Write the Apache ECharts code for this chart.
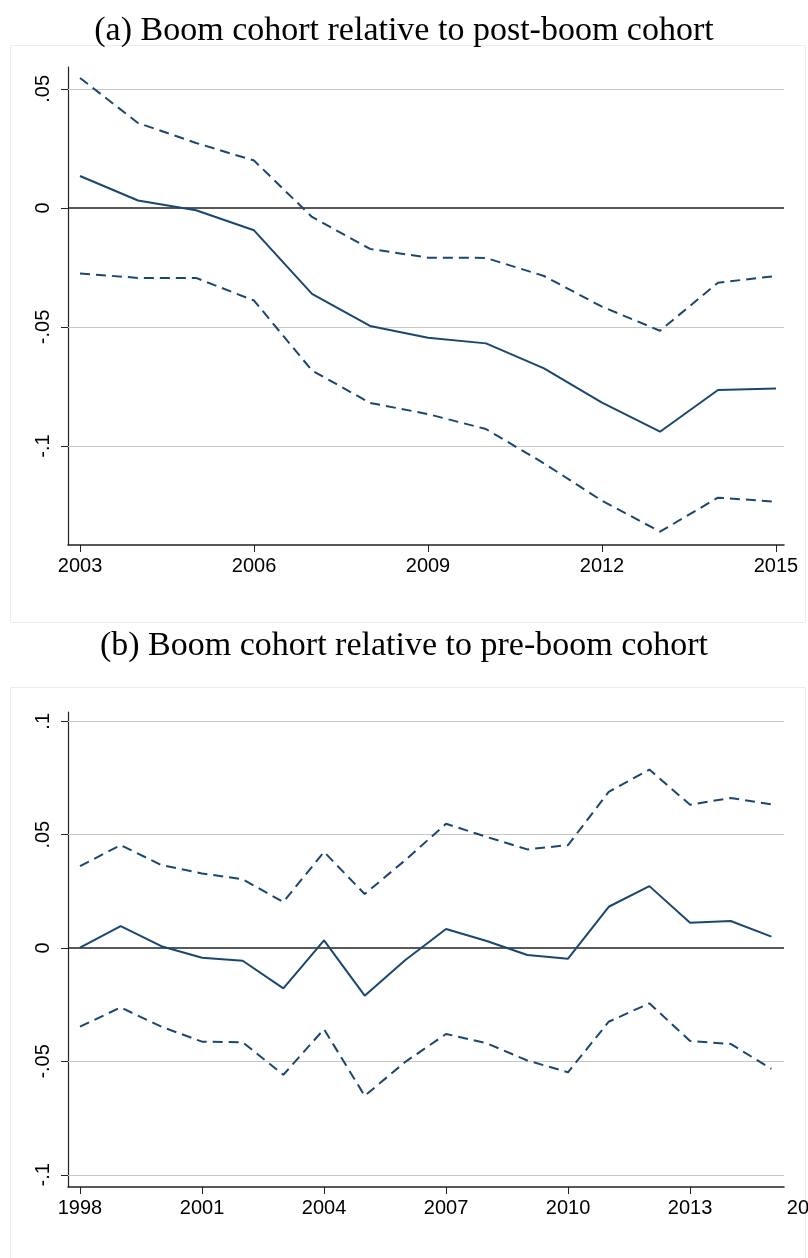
<!DOCTYPE html>
<html>
<head>
<meta charset="utf-8">
<script src="https://cdn.jsdelivr.net/npm/echarts@6/dist/echarts.min.js"></script>
<style>
  html, body { margin: 0; padding: 0; background: #fff; }
  #chart { width: 808px; height: 1258px; }
</style>
</head>
<body>
<div id="chart"></div>
<script>
// Panel (a): boom cohort vs post-boom cohort, 2003-2015
const yearsA = [2003, 2004, 2005, 2006, 2007, 2008, 2009, 2010, 2011, 2012, 2013, 2014, 2015];
const coefA  = [0.0134, 0.0031, -0.0010, -0.0094, -0.0361, -0.0496, -0.0545, -0.0569, -0.0674, -0.0818, -0.0940, -0.0765, -0.0759];
const upperA = [0.0546, 0.0357, 0.0273, 0.0199, -0.0038, -0.0172, -0.0209, -0.0210, -0.0286, -0.0415, -0.0516, -0.0314, -0.0286];
const lowerA = [-0.0275, -0.0294, -0.0294, -0.0389, -0.0683, -0.0819, -0.0866, -0.0929, -0.1073, -0.1230, -0.1360, -0.1217, -0.1234];
const xTicksA = [2003, 2006, 2009, 2012, 2015];
const yTicksA = [-0.1, -0.05, 0, 0.05];

// Panel (b): boom cohort vs pre-boom cohort, 1998-2015
const yearsB = [1998, 1999, 2000, 2001, 2002, 2003, 2004, 2005, 2006, 2007, 2008, 2009, 2010, 2011, 2012, 2013, 2014, 2015];
const coefB  = [0.0002, 0.0097, 0.0008, -0.0043, -0.0056, -0.0178, 0.0034, -0.0210, -0.0053, 0.0084, 0.0031, -0.0031, -0.0047, 0.0182, 0.0273, 0.0111, 0.0119, 0.0050];
const upperB = [0.0361, 0.0454, 0.0366, 0.0329, 0.0303, 0.0203, 0.0424, 0.0238, 0.0388, 0.0548, 0.0490, 0.0435, 0.0454, 0.0689, 0.0787, 0.0632, 0.0662, 0.0634];
const lowerB = [-0.0347, -0.0262, -0.0347, -0.0413, -0.0416, -0.0559, -0.0358, -0.0652, -0.0502, -0.0379, -0.0420, -0.0496, -0.0548, -0.0325, -0.0244, -0.0410, -0.0423, -0.0533];
const xTicksB = [1998, 2001, 2004, 2007, 2010, 2013];
const xTicksBOuter = [2016];
const yTicksB = [-0.1, -0.05, 0, 0.05, 0.1];

const titleA = '(a) Boom cohort relative to post-boom cohort';
const titleB = '(b) Boom cohort relative to pre-boom cohort';

const navy = '#1a476f';
const tickFont = { fontFamily: 'Liberation Sans, Arial, sans-serif', fontSize: 20, color: '#000' };
const titleFont = { fontFamily: 'Liberation Serif, Times New Roman, serif', fontSize: 34, fontWeight: 'normal', color: '#000' };

function fmtY(v) {
  if (Math.abs(v) < 1e-12) return '0';
  return String(+v.toFixed(4)).replace('0.', '.');
}

function pairs(xs, ys) { return xs.map((x, i) => [x, ys[i]]); }

function xAxisCfg(gridIndex, min, max, ticks) {
  return {
    type: 'value', gridIndex, min, max,
    axisLine: { show: true, onZero: false, lineStyle: { color: '#222', width: 1.5 } },
    axisTick: { show: true, length: 7, customValues: ticks, lineStyle: { color: '#222', width: 1 } },
    axisLabel: Object.assign({ customValues: ticks, margin: 11, alignMinLabel: 'center', alignMaxLabel: 'center', formatter: v => String(v) }, tickFont),
    splitLine: { show: false }
  };
}

function yAxisCfg(gridIndex, min, max, ticks) {
  return {
    type: 'value', gridIndex, min, max,
    axisLine: { show: true, onZero: false, lineStyle: { color: '#222', width: 1.2 } },
    axisTick: { show: true, length: 7, customValues: ticks, lineStyle: { color: '#222', width: 1 } },
    axisLabel: Object.assign({ customValues: ticks, rotate: 90, margin: 15, alignMinLabel: 'center', alignMaxLabel: 'center', formatter: fmtY }, tickFont),
    splitLine: { show: false }
  };
}

// horizontal reference lines: light gridlines at ticks, dark line at zero
function refLines(ticks) {
  const data = ticks.filter(t => t !== 0).map(t => ({ yAxis: t, lineStyle: { color: '#c8c8c8', width: 1, type: 'solid' } }));
  data.push({ yAxis: 0, lineStyle: { color: '#222', width: 1.5, type: 'solid' } });
  return { silent: true, symbol: 'none', label: { show: false }, animation: false, data };
}

function lineSeries(idx, data, dashed, withRefs, ticks) {
  const s = {
    type: 'line', xAxisIndex: idx, yAxisIndex: idx, data,
    symbol: 'none', animation: false, z: 3,
    lineStyle: { color: navy, width: 2, type: dashed ? [10, 6] : 'solid' }
  };
  if (withRefs) s.markLine = Object.assign({ z: 1 }, refLines(ticks));
  return s;
}

const chart = echarts.init(document.getElementById('chart'), null, { renderer: 'canvas' });

chart.setOption({
  backgroundColor: '#fff',
  animation: false,
  title: [
    { text: titleA, left: 'center', top: 9, textStyle: titleFont },
    { text: titleB, left: 'center', top: 624, textStyle: titleFont }
  ],
  graphic: [
    { type: 'rect', shape: { x: 10.5, y: 45.5, width: 795, height: 577 }, style: { fill: 'none', stroke: '#ececec', lineWidth: 1 }, z: 0 },
    { type: 'rect', shape: { x: 10.5, y: 687.5, width: 795, height: 600 }, style: { fill: 'none', stroke: '#ececec', lineWidth: 1 }, z: 0 }
  ],
  grid: [
    { left: 68, right: 24, top: 67, bottom: 713, outerBoundsMode: 'none' },
    { left: 68, right: 24, top: 712, bottom: 71, outerBoundsMode: 'none' },
    { left: 68, right: -1, top: 712, bottom: 71, outerBoundsMode: 'none' }
  ],
  xAxis: [
    xAxisCfg(0, 2002.793, 2015.138, xTicksA),
    xAxisCfg(1, 1997.705, 2015.31, xTicksB),
    Object.assign(xAxisCfg(2, 1997.705, 2016, xTicksBOuter), { axisLine: { show: false }, axisTick: { show: false } })
  ],
  yAxis: [
    yAxisCfg(0, -0.1416, 0.0592, yTicksA),
    yAxisCfg(1, -0.1054, 0.1041, yTicksB),
    { type: 'value', gridIndex: 2, min: -0.1054, max: 0.1041, show: false }
  ],
  series: [
    lineSeries(0, pairs(yearsA, coefA), false, true, yTicksA),
    lineSeries(0, pairs(yearsA, upperA), true, false),
    lineSeries(0, pairs(yearsA, lowerA), true, false),
    lineSeries(1, pairs(yearsB, coefB), false, true, yTicksB),
    lineSeries(1, pairs(yearsB, upperB), true, false),
    lineSeries(1, pairs(yearsB, lowerB), true, false)
  ]
});
</script>
</body>
</html>
